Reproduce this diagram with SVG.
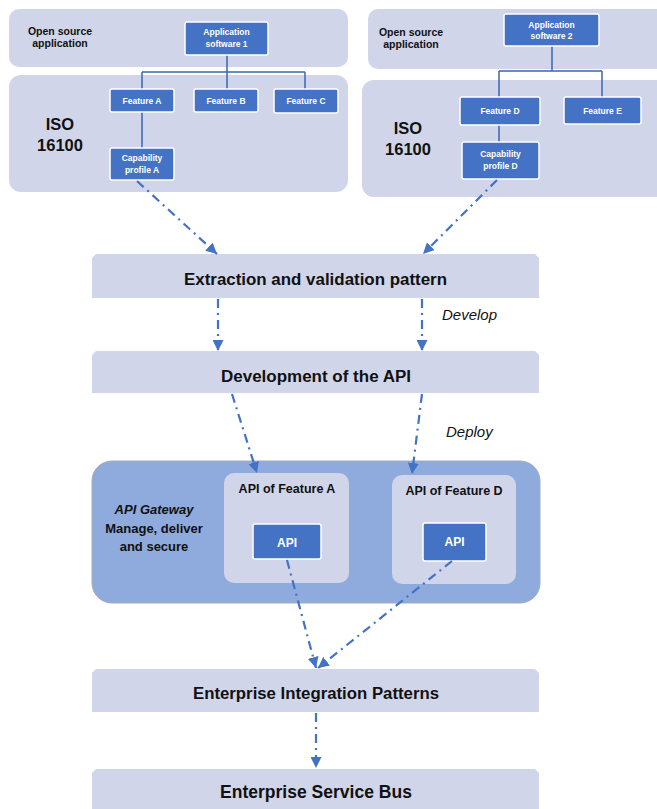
<svg xmlns="http://www.w3.org/2000/svg" width="657" height="809" viewBox="0 0 657 809">
<style>
.panel{fill:#D0D5EA}
.blue{fill:#4472C4;stroke:#FFFFFF;stroke-width:1.5}
.band{fill:#D0D5EA}
.t{font-family:"Liberation Sans",Arial,sans-serif;font-weight:bold;fill:#111111;text-anchor:middle}
.w{font-family:"Liberation Sans",Arial,sans-serif;font-weight:bold;fill:#FFFFFF;text-anchor:middle;font-size:8.5px}
.it{font-family:"Liberation Sans",Arial,sans-serif;font-style:italic;fill:#111111}
.tree{fill:none;stroke:#3B66B3;stroke-width:1.5}
.arr{fill:none;stroke:#4472C4;stroke-width:2.2;stroke-dasharray:9 5 2 5;marker-end:url(#ah)}
</style>
<defs>
<marker id="ah" markerUnits="userSpaceOnUse" markerWidth="11" markerHeight="11" viewBox="0 0 10 10" refX="10" refY="5" orient="auto">
<path d="M0,0 L10,5 L0,10 z" fill="#4472C4"/>
</marker>
</defs>

<g id="panel-left-top"><rect class="panel" x="9" y="9" width="339" height="58" rx="10"/>
<text class="t" font-size="10.5" x="60" y="35">Open source</text><text class="t" font-size="10.5" x="60" y="47">application</text></g>
<g id="panel-left-iso"><rect class="panel" x="9" y="75" width="339" height="117" rx="12"/>
<text class="t" font-size="16.5" x="60" y="130">ISO</text><text class="t" font-size="16.5" x="60" y="151">16100</text></g>
<g id="panel-right-top"><rect class="panel" x="368" y="9" width="300" height="60" rx="10"/>
<text class="t" font-size="10.5" x="411" y="36">Open source</text><text class="t" font-size="10.5" x="411" y="48">application</text></g>
<g id="panel-right-iso"><rect class="panel" x="362" y="80" width="306" height="117" rx="12"/>
<text class="t" font-size="16.5" x="408" y="134">ISO</text><text class="t" font-size="16.5" x="408" y="155">16100</text></g>

<g id="tree-connectors">
<path class="tree" d="M227,55 V72 M142,72 H305 M142,72 V89 M227,72 V89 M305,72 V89 M142,112 V148"/>
<path class="tree" d="M552,46 V71 M499,71 H602 M499,71 V97 M602,71 V97 M499,125 V142"/>
</g>

<g id="app1"><rect class="blue" x="185" y="22" width="83" height="33" rx="2"/><text class="w" x="226.5" y="35">Application</text><text class="w" x="226.5" y="46.5">software 1</text></g>
<g id="featA"><rect class="blue" x="110" y="89" width="64" height="23" rx="2"/><text class="w" x="142" y="103.5">Feature A</text></g>
<g id="featB"><rect class="blue" x="194" y="89" width="64" height="23" rx="2"/><text class="w" x="226" y="103.5">Feature B</text></g>
<g id="featC"><rect class="blue" x="274" y="89" width="64" height="24" rx="2"/><text class="w" x="306" y="104">Feature C</text></g>
<g id="capA"><rect class="blue" x="110" y="148" width="64" height="32" rx="2"/><text class="w" x="142" y="161">Capability</text><text class="w" x="142" y="172.5">profile A</text></g>

<g id="app2"><rect class="blue" x="504" y="14" width="95" height="32" rx="2"/><text class="w" x="551.5" y="27.5">Application</text><text class="w" x="551.5" y="39">software 2</text></g>
<g id="featD"><rect class="blue" x="460" y="97" width="80" height="28" rx="2"/><text class="w" x="500" y="113.5">Feature D</text></g>
<g id="featE"><rect class="blue" x="564" y="97" width="77" height="27" rx="2"/><text class="w" x="602.5" y="113.5">Feature E</text></g>
<g id="capD"><rect class="blue" x="462" y="142" width="77" height="37" rx="2"/><text class="w" x="500.5" y="157">Capability</text><text class="w" x="500.5" y="168.5">profile D</text></g>

<g id="extraction"><path class="band" d="M96,254 H535 L539,258 V298 H92 V258 Z"/>
<text class="t" font-size="16" x="315.5" y="285" textLength="263" lengthAdjust="spacingAndGlyphs">Extraction and validation pattern</text></g>
<text class="it" font-size="15" x="442" y="320">Develop</text>
<g id="development"><path class="band" d="M96,351 H535 L539,355 V393 H92 V355 Z"/>
<text class="t" font-size="16" x="316" y="382" textLength="190" lengthAdjust="spacingAndGlyphs">Development of the API</text></g>
<text class="it" font-size="15" x="446" y="437">Deploy</text>

<g id="gateway"><rect x="92" y="461" width="448" height="142" rx="20" fill="#8FAADC" stroke="#A4ABBA" stroke-width="1"/>
<text class="t" font-size="13" font-style="italic" x="154" y="514">API Gateway</text>
<text class="t" font-size="13" x="154" y="533">Manage, deliver</text>
<text class="t" font-size="13" x="154" y="551">and secure</text></g>
<g id="apiFeatA"><rect x="224" y="473" width="125" height="110" rx="10" fill="#D0D5EA"/>
<text class="t" font-size="12.5" x="287" y="493">API of Feature A</text>
<rect class="blue" x="253" y="524" width="68" height="35" rx="2"/><text class="w" style="font-size:12px" x="287" y="547">API</text></g>
<g id="apiFeatD"><rect x="392" y="475" width="124" height="109" rx="10" fill="#D0D5EA"/>
<text class="t" font-size="12.5" x="454" y="495">API of Feature D</text>
<rect class="blue" x="423" y="523" width="63" height="38" rx="2"/><text class="w" style="font-size:12px" x="454.5" y="546">API</text></g>

<g id="eip"><path class="band" d="M96,669 H535 L539,673 V712 H92 V673 Z"/>
<text class="t" font-size="16" x="316" y="699" textLength="246" lengthAdjust="spacingAndGlyphs">Enterprise Integration Patterns</text></g>
<g id="esb"><path class="band" d="M96,769 H535 L539,773 V809 H92 V773 Z"/>
<text class="t" font-size="18" x="316" y="798" textLength="192" lengthAdjust="spacingAndGlyphs">Enterprise Service Bus</text></g>

<g id="connectors">
<path class="arr" d="M137,181 L217,254"/>
<path class="arr" d="M497,180 L423,254"/>
<path class="arr" d="M218,299 L218,351"/>
<path class="arr" d="M422,299 L422,351"/>
<path class="arr" d="M232,394 L257,473"/>
<path class="arr" d="M422,394 L412,474"/>
<path class="arr" d="M287,560 L316,668"/>
<path class="arr" d="M452,561 L318,668"/>
<path class="arr" d="M316,713 L316,768"/>
</g>
</svg>
